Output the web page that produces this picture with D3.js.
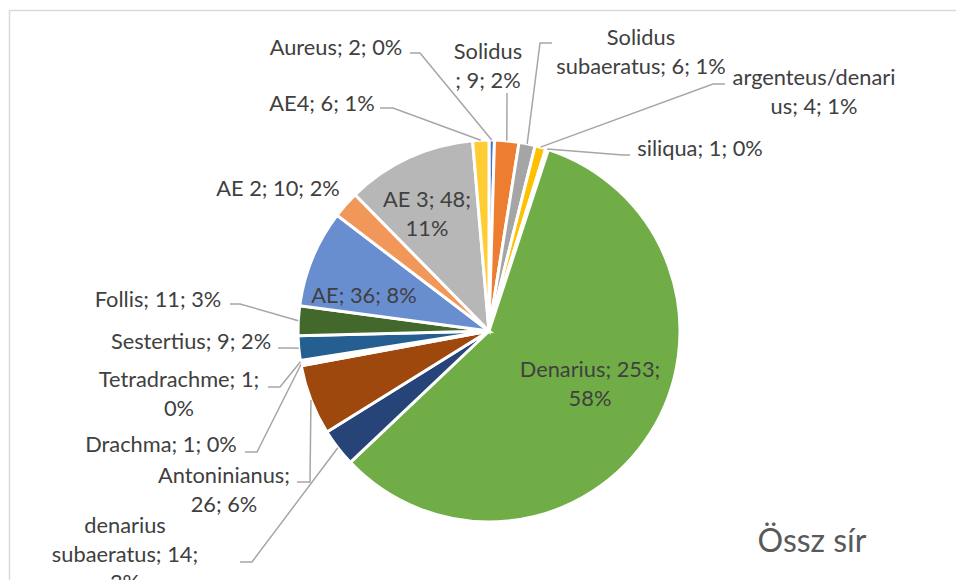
<!DOCTYPE html>
<html>
<head>
<meta charset="utf-8">
<script src="https://cdn.jsdelivr.net/npm/d3@7"></script>
<style>
  body { margin: 0; background: #fff; }
  svg { display: block; font-family: Lato, "Open Sans", sans-serif; }
</style>
</head>
<body>
<svg id="chart" width="956" height="580"></svg>
<script>
// categories in Excel order (first slice starts at 12 o'clock)
const coins = ["Aureus", "Solidus", "Solidus subaeratus", "argenteus/denarius", "siliqua",
  "Denarius", "denarius subaeratus", "Antoninianus", "Drachma", "Tetradrachme",
  "Sestertius", "Follis", "AE", "AE 2", "AE 3", "AE4"];
const counts = [2, 9, 6, 4, 1, 253, 14, 26, 1, 1, 9, 11, 36, 10, 48, 6];
const colors = ["#4472C4", "#ED7D31", "#A5A5A5", "#FFC000", "#5B9BD5", "#70AD47",
  "#264478", "#9E480E", "#636363", "#997300", "#255E91", "#43682B",
  "#698ED0", "#F1975A", "#B7B7B7", "#FFCD33"];
const title = "Össz sír";

// label layout: centre x, first baseline, where the text wraps, leader start + elbow
const labelLayout = {
  "Aureus": { x: 336, y: 55, lead: [[410, 53], [420, 53]] },
  "Solidus": { x: 488, y: 59, breaks: [7], lead: [[507, 93]] },
  "Solidus subaeratus": { x: 641, y: 45, breaks: [8], lead: [[552, 43], [540, 43]] },
  "argenteus/denarius": { x: 814, y: 85, breaks: [16], lead: [[725, 84], [713, 84]] },
  "siliqua": { x: 700, y: 156, lead: [[630, 155], [623, 155]] },
  "Denarius": { x: 590, y: 377, breaks: [15] },
  "denarius subaeratus": { x: 125, y: 533, breaks: [9, 25], lead: [[240, 562], [252, 562]] },
  "Antoninianus": { x: 224, y: 483, breaks: [14], lead: [[297, 482], [310, 482]] },
  "Drachma": { x: 161, y: 452, lead: [[245, 452], [257, 452]] },
  "Tetradrachme": { x: 179, y: 387, breaks: [17], lead: [[268, 387], [280, 387]] },
  "Sestertius": { x: 191, y: 349, lead: [[278, 348], [292, 348]] },
  "Follis": { x: 158, y: 307, lead: [[230, 304], [240, 304]] },
  "AE": { x: 364, y: 303 },
  "AE 2": { x: 278, y: 196 },
  "AE 3": { x: 427, y: 207, breaks: [10] },
  "AE4": { x: 322, y: 111, lead: [[380, 108], [393, 108]] }
};

const svg = d3.select("#chart");
const cx = 489, cy = 331, radius = 191;
const lineHeight = 28.5;

// chart frame (right and bottom edges fall outside the picture)
svg.append("rect")
  .attr("x", 9.5).attr("y", 10.5)
  .attr("width", 960).attr("height", 600)
  .attr("fill", "#fff")
  .attr("stroke", "#D9D9D9")
  .attr("stroke-width", 1.5);

const total = d3.sum(counts);
const data = coins.map((c, i) => ({ name: c, value: counts[i], color: colors[i] }));

const pie = d3.pie().value(d => d.value).sort(null);
const arc = d3.arc().innerRadius(0).outerRadius(radius);
const arcs = pie(data);

const g = svg.append("g").attr("transform", `translate(${cx},${cy})`);

g.selectAll("path.slice")
  .data(arcs)
  .enter()
  .append("path")
  .attr("class", "slice")
  .attr("d", arc)
  .attr("fill", d => d.data.color)
  .attr("stroke", "#fff")
  .attr("stroke-width", 3)
  .attr("stroke-linejoin", "miter");

// point on the rim at the middle of a slice
function rimPoint(d) {
  const a = (d.startAngle + d.endAngle) / 2;
  return [cx + radius * Math.sin(a), cy - radius * Math.cos(a)];
}

// leader lines
arcs.forEach(d => {
  const lay = labelLayout[d.data.name];
  if (!lay.lead) return;
  const pts = lay.lead.concat([rimPoint(d)]);
  svg.append("path")
    .attr("d", d3.line()(pts))
    .attr("fill", "none")
    .attr("stroke", "#A6A6A6")
    .attr("stroke-width", 1.5);
});

// data labels: "name; value; pct%"
arcs.forEach(d => {
  const lay = labelLayout[d.data.name];
  const pct = Math.round(d.data.value / total * 100);
  const full = `${d.data.name}; ${d.data.value}; ${pct}%`;
  const cuts = [0].concat(lay.breaks || []).concat([full.length]);
  const lines = d3.pairs(cuts).map(([a, b]) => full.slice(a, b).trim());
  const t = svg.append("text")
    .attr("text-anchor", "middle")
    .attr("font-size", 21.8)
    .attr("fill", "#404040");
  lines.forEach((ln, i) => {
    t.append("tspan")
      .attr("x", lay.x)
      .attr("y", lay.y + i * lineHeight)
      .text(ln);
  });
});

svg.append("text")
  .attr("x", 812)
  .attr("y", 552)
  .attr("text-anchor", "middle")
  .attr("font-size", 32)
  .attr("fill", "#595959")
  .text(title);
</script>
</body>
</html>
